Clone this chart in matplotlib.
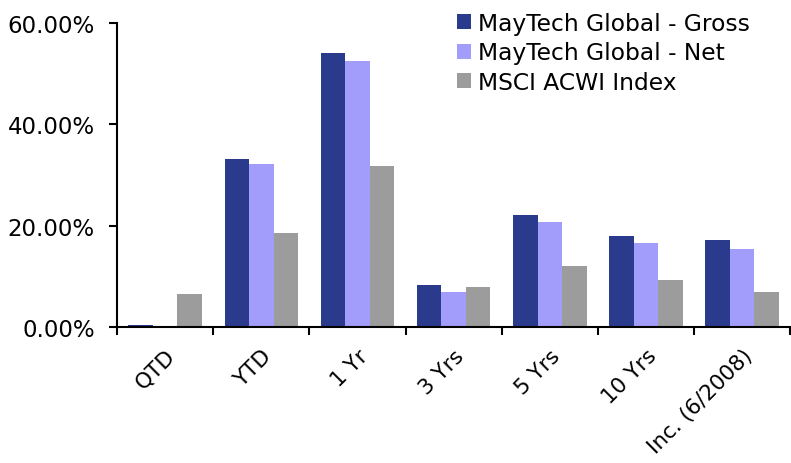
import matplotlib
matplotlib.use("Agg")
import matplotlib.pyplot as plt
import numpy as np
from matplotlib.ticker import PercentFormatter, FixedLocator

categories = ["QTD", "YTD", "1 Yr", "3 Yrs", "5 Yrs", "10 Yrs", "Inc. (6/2008)"]
gross = [0.4, 33.2, 54.1, 8.3, 22.1, 18.0, 17.1]
net = [0.1, 32.1, 52.5, 7.0, 20.7, 16.5, 15.5]
msci = [6.5, 18.6, 31.7, 8.0, 12.1, 9.3, 6.85]
series_names = ["MayTech Global - Gross", "MayTech Global - Net", "MSCI ACWI Index"]
colors = ["#2a3a8c", "#a29dfb", "#9c9c9c"]

plt.rcParams["font.family"] = ["DejaVu Sans"]

fig = plt.figure(figsize=(7.91, 4.64), dpi=100)
ax = fig.add_axes([0.148, 0.293, 0.851, 0.655])

x = np.arange(len(categories))
w = 0.255
for i, (vals, name, c) in enumerate(zip([gross, net, msci], series_names, colors)):
    ax.bar(x + (i - 1) * w, vals, w, color=c, label=name)

ax.set_xlim(-0.5, len(categories) - 0.5)
ax.set_ylim(0, 60)
ax.set_yticks([0, 20, 40, 60])
ax.yaxis.set_major_formatter(PercentFormatter(decimals=2))

ax.set_xticks(x)
ax.set_xticklabels(categories, rotation=45, ha="right", rotation_mode="anchor")
ax.xaxis.set_minor_locator(FixedLocator(np.arange(-0.5, len(categories), 1)))
ax.tick_params(axis="x", which="major", length=0, pad=13, labelsize=15.5)
ax.tick_params(axis="x", which="minor", length=6, width=1.5, direction="out")
ax.tick_params(axis="y", length=6, width=1.5, pad=10, labelsize=16.5)

for s in ["top", "right"]:
    ax.spines[s].set_visible(False)
ax.spines["left"].set_linewidth(1.5)
ax.spines["bottom"].set_linewidth(1.5)

ax.legend(loc="upper left", bbox_to_anchor=(0.505, 1.037), frameon=False,
          fontsize=16.8, handlelength=0.62, handleheight=0.62, handletextpad=0.3,
          labelspacing=0.28, borderaxespad=0, borderpad=0)

fig.savefig("out.png", dpi=100)
